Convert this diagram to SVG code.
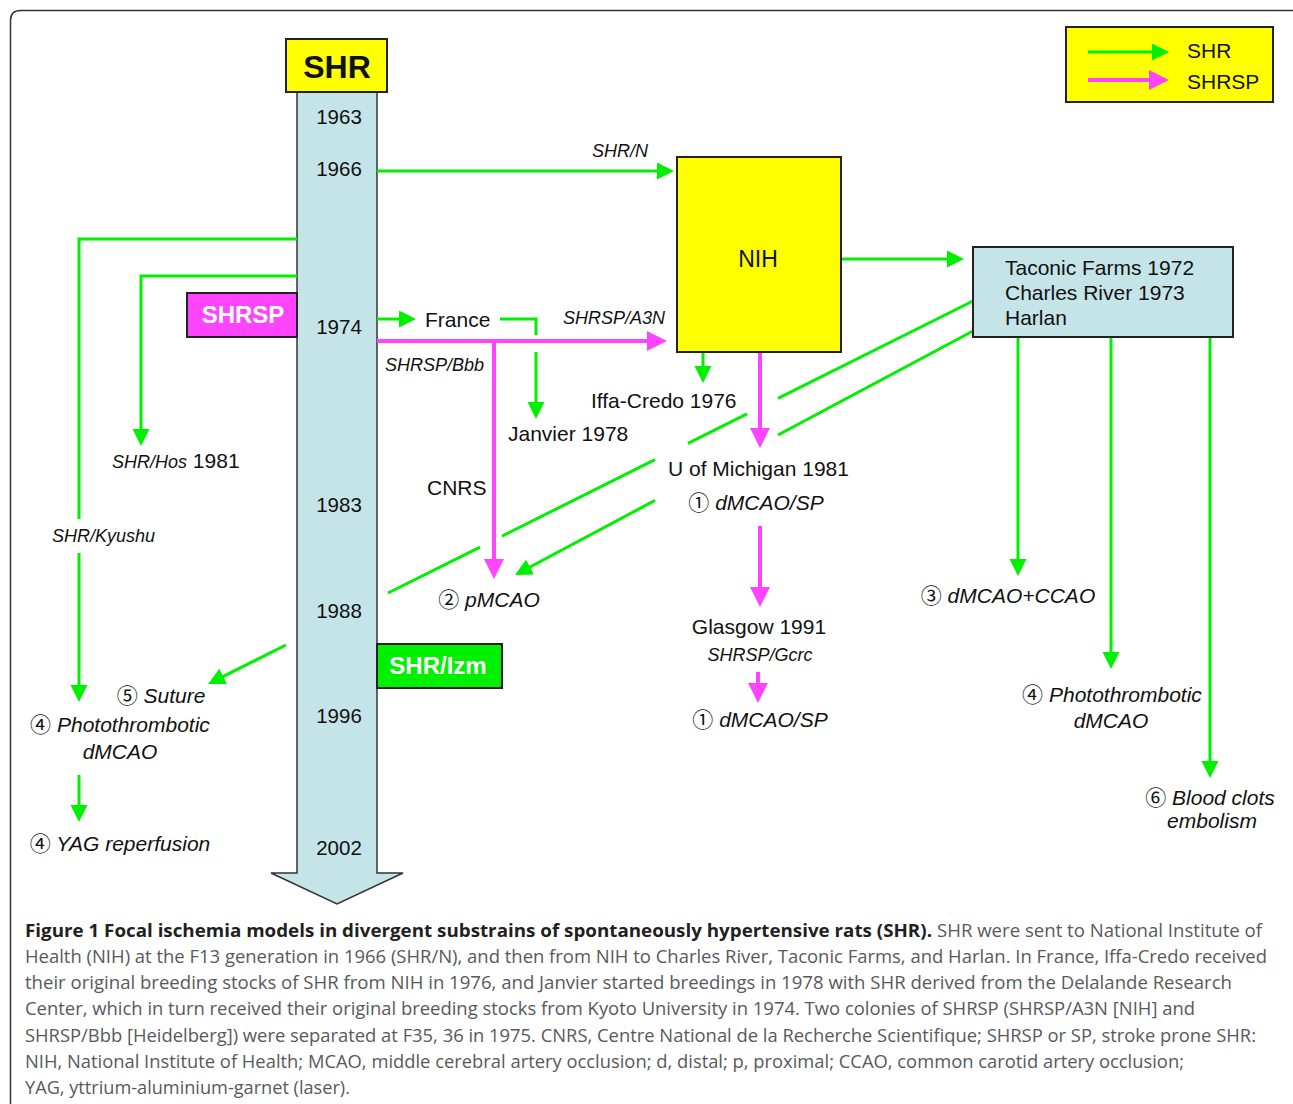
<svg xmlns="http://www.w3.org/2000/svg" width="1293" height="1104" viewBox="0 0 1293 1104">
<defs>
<style>
.t{font-family:"Liberation Sans",Arial,"DejaVu Sans",sans-serif;fill:#111;}
.yr{font-size:20.5px;text-anchor:middle;}
.l{font-size:21px;}
.i{font-size:21px;font-style:italic;}
.si{font-size:18px;font-style:italic;}
.m{text-anchor:middle;}
.b{font-weight:bold;}
.c{font-family:"Noto Sans CJK JP","DejaVu Sans",sans-serif;font-style:normal;}
.g{fill:none;stroke:#00F000;stroke-width:3;}
.p{fill:none;stroke:#FF44FF;stroke-width:4;}
.box{stroke:#222;stroke-width:2;}
.cap{font-family:"Open Sans","Noto Sans","Liberation Sans",sans-serif;font-size:18.5px;fill:#58595b;}
.capb{font-family:"Open Sans","Noto Sans","Liberation Sans",sans-serif;font-size:18.5px;font-weight:bold;fill:#231f20;}
</style>
<marker id="ag" markerUnits="userSpaceOnUse" markerWidth="18" markerHeight="18" refX="1" refY="8.5" orient="auto"><path d="M0,0 L17,8.5 L0,17 z" fill="#00F000"/></marker>
<marker id="ap" markerUnits="userSpaceOnUse" markerWidth="21" markerHeight="21" refX="1" refY="10" orient="auto"><path d="M0,0 L20,10 L0,20 z" fill="#FF44FF"/></marker>
</defs>
<rect x="0" y="0" width="1293" height="1104" fill="#fff"/>
<path d="M10.5,1104 V20.5 Q10.5,10.5 20.5,10.5 H1293" fill="none" stroke="#333" stroke-width="1.5"/>

<g id="timeline">
<polygon points="297,92 377,92 377,873 403,873 337,904 271,873 297,873" fill="#C5E4E8" stroke="#333" stroke-width="1.5"/>
<text class="t yr" x="339" y="124">1963</text>
<text class="t yr" x="339" y="176">1966</text>
<text class="t yr" x="339" y="334">1974</text>
<text class="t yr" x="339" y="512">1983</text>
<text class="t yr" x="339" y="618">1988</text>
<text class="t yr" x="339" y="723">1996</text>
<text class="t yr" x="339" y="855">2002</text>
</g>

<g id="connectors">
<path class="g" d="M377,171 H658" marker-end="url(#ag)"/>
<path class="g" d="M842,259 H948" marker-end="url(#ag)"/>
<path class="g" d="M297,239 H79 V519"/>
<path class="g" d="M79,553 V686" marker-end="url(#ag)"/>
<path class="g" d="M297,276 H141 V430" marker-end="url(#ag)"/>
<path class="g" d="M377,319 H400" marker-end="url(#ag)"/>
<path class="g" d="M500,319 H536 V335"/>
<path class="g" d="M536,352 V403" marker-end="url(#ag)"/>
<path class="g" d="M703,353 V367" marker-end="url(#ag)"/>
<path class="g" d="M973,301 L778,398.3 M747,413.8 L688,443.3 M655,459.7 L502,536.1 M480,547.1 L388,593"/>
<path class="g" d="M973,331 L778,435"/>
<path class="g" d="M655,500.4 L529.1,567.5" marker-end="url(#ag)"/>
<path class="g" d="M286,645 L222.3,676.8" marker-end="url(#ag)"/>
<path class="g" d="M79,775 V806" marker-end="url(#ag)"/>
<path class="g" d="M1018,337 V560" marker-end="url(#ag)"/>
<path class="g" d="M1111,337 V653" marker-end="url(#ag)"/>
<path class="g" d="M1210,337 V762" marker-end="url(#ag)"/>
<path class="p" d="M377,341 H648" marker-end="url(#ap)"/>
<path class="p" d="M494,341 V560" marker-end="url(#ap)"/>
<path class="p" d="M760,353 V429" marker-end="url(#ap)"/>
<path class="p" d="M760,526 V588" marker-end="url(#ap)"/>
<path class="p" d="M758,672 V684" marker-end="url(#ap)"/>
</g>

<g id="shr">
<rect class="box" x="286" y="39" width="101" height="53" fill="#FFFF00"/>
<text class="t b m" x="337" y="78" font-size="32">SHR</text>
</g>
<g id="shrsp">
<rect class="box" x="187" y="293" width="110" height="44" fill="#FF44FF"/>
<text class="t b m" x="243" y="323" font-size="24" style="fill:#fff">SHRSP</text>
</g>
<g id="shrizm">
<rect class="box" x="377" y="644" width="125" height="44" fill="#00F000"/>
<text class="t b m" x="438" y="674" font-size="24" style="fill:#fff">SHR/Izm</text>
</g>
<g id="nih">
<rect class="box" x="677" y="157" width="164" height="195" fill="#FFFF00"/>
<text class="t m" x="758" y="267" font-size="23">NIH</text>
</g>
<g id="taconic">
<rect class="box" x="973" y="247" width="260" height="90" fill="#C5E4E8"/>
<text class="t l" x="1005" y="275">Taconic Farms 1972</text>
<text class="t l" x="1005" y="300">Charles River 1973</text>
<text class="t l" x="1005" y="325">Harlan</text>
</g>
<g id="legend">
<rect class="box" x="1066" y="27" width="207" height="75" fill="#FFFF00"/>
<path class="g" d="M1088,52 H1153" marker-end="url(#ag)"/>
<path class="p" d="M1088,80 H1150" marker-end="url(#ap)"/>
<text class="t l" x="1187" y="58">SHR</text>
<text class="t l" x="1187" y="89">SHRSP</text>
</g>

<g id="labels">
<text class="t si" x="592" y="157">SHR/N</text>
<text class="t l" x="425" y="327">France</text>
<text class="t si" x="563" y="324">SHRSP/A3N</text>
<text class="t si" x="385" y="371">SHRSP/Bbb</text>
<text class="t l" x="591" y="408">Iffa-Credo 1976</text>
<text class="t l" x="508" y="441">Janvier 1978</text>
<text class="t l" x="668" y="476">U of Michigan 1981</text>
<text class="t i m" x="756" y="510"><tspan class="c">①</tspan> dMCAO/SP</text>
<text class="t l" x="427" y="495">CNRS</text>
<text class="t i m" x="489" y="607"><tspan class="c">②</tspan> pMCAO</text>
<text class="t" x="112" y="468"><tspan class="si">SHR/Hos</tspan><tspan font-size="21"> 1981</tspan></text>
<text class="t si" x="52" y="542">SHR/Kyushu</text>
<text class="t i m" x="161" y="703"><tspan class="c">⑤</tspan> Suture</text>
<text class="t i m" x="120" y="732"><tspan class="c">④</tspan> Photothrombotic</text>
<text class="t i m" x="120" y="759">dMCAO</text>
<text class="t i m" x="120" y="851"><tspan class="c">④</tspan> YAG reperfusion</text>
<text class="t l m" x="759" y="634">Glasgow 1991</text>
<text class="t si m" x="760" y="661">SHRSP/Gcrc</text>
<text class="t i m" x="760" y="727"><tspan class="c">①</tspan> dMCAO/SP</text>
<text class="t i m" x="1008" y="603"><tspan class="c">③</tspan> dMCAO+CCAO</text>
<text class="t i m" x="1112" y="702"><tspan class="c">④</tspan> Photothrombotic</text>
<text class="t i m" x="1111" y="728">dMCAO</text>
<text class="t i m" x="1210" y="805"><tspan class="c">⑥</tspan> Blood clots</text>
<text class="t i m" x="1212" y="828">embolism</text>
</g>

<g id="caption">
<text class="capb" x="25" y="937" textLength="907" lengthAdjust="spacingAndGlyphs">Figure 1 Focal ischemia models in divergent substrains of spontaneously hypertensive rats (SHR).</text>
<text class="cap" x="937" y="937" textLength="325" lengthAdjust="spacingAndGlyphs">SHR were sent to National Institute of</text>
<text class="cap" x="25" y="963" textLength="1242" lengthAdjust="spacingAndGlyphs">Health (NIH) at the F13 generation in 1966 (SHR/N), and then from NIH to Charles River, Taconic Farms, and Harlan. In France, Iffa-Credo received</text>
<text class="cap" x="25" y="989" textLength="1207" lengthAdjust="spacingAndGlyphs">their original breeding stocks of SHR from NIH in 1976, and Janvier started breedings in 1978 with SHR derived from the Delalande Research</text>
<text class="cap" x="25" y="1015" textLength="1170" lengthAdjust="spacingAndGlyphs">Center, which in turn received their original breeding stocks from Kyoto University in 1974. Two colonies of SHRSP (SHRSP/A3N [NIH] and</text>
<text class="cap" x="25" y="1042" textLength="1231" lengthAdjust="spacingAndGlyphs">SHRSP/Bbb [Heidelberg]) were separated at F35, 36 in 1975. CNRS, Centre National de la Recherche Scientifique; SHRSP or SP, stroke prone SHR:</text>
<text class="cap" x="25" y="1068" textLength="1159" lengthAdjust="spacingAndGlyphs">NIH, National Institute of Health; MCAO, middle cerebral artery occlusion; d, distal; p, proximal; CCAO, common carotid artery occlusion;</text>
<text class="cap" x="25" y="1094" textLength="325" lengthAdjust="spacingAndGlyphs">YAG, yttrium-aluminium-garnet (laser).</text>
</g>
</svg>
